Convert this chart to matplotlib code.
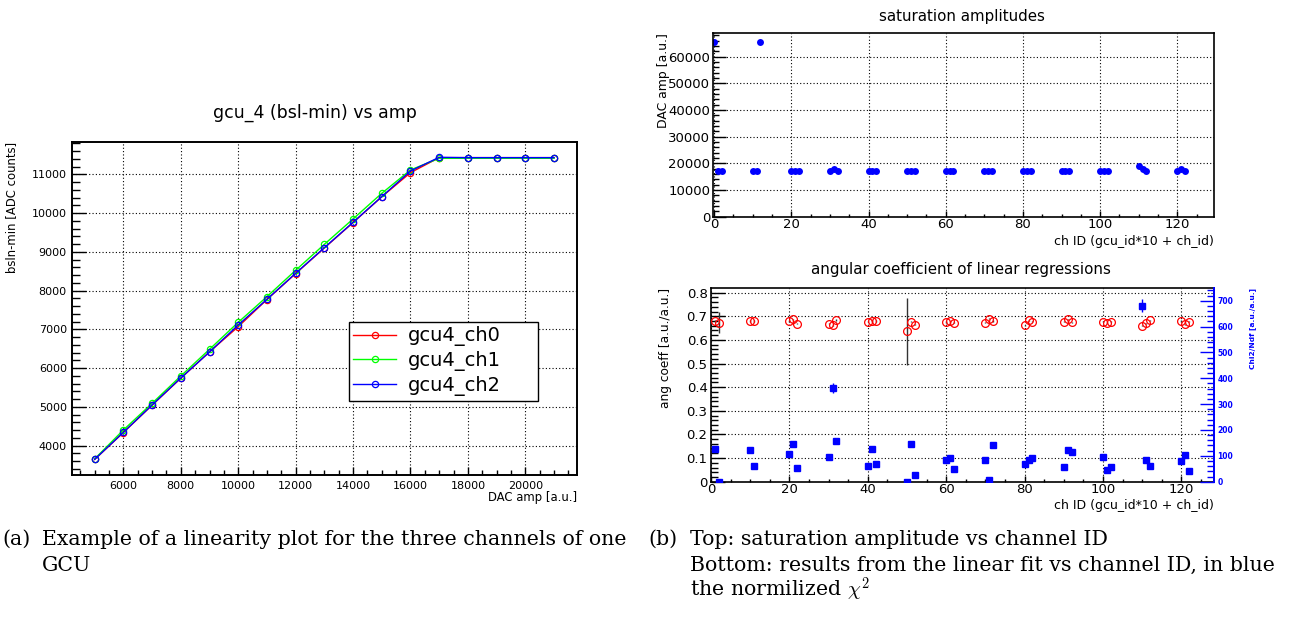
import matplotlib
matplotlib.use("Agg")
import matplotlib.pyplot as plt
from matplotlib.ticker import MultipleLocator

W, H, DPI = 1302, 619, 100

# ---------------- data ----------------
dac_amp = [5000, 6000, 7000, 8000, 9000, 10000, 11000, 12000, 13000,
           14000, 15000, 16000, 17000, 18000, 19000, 20000, 21000]
gcu4_ch0 = [3645, 4340, 5045, 5740, 6420, 7070, 7770, 8440, 9100,
            9755, 10420, 11043, 11430, 11430, 11430, 11430, 11430]
gcu4_ch1 = [3660, 4405, 5093, 5798, 6486, 7182, 7844, 8524, 9194,
            9848, 10510, 11112, 11413, 11413, 11413, 11413, 11413]
gcu4_ch2 = [3648, 4345, 5050, 5746, 6417, 7113, 7776, 8446, 9108,
            9762, 10424, 11086, 11438, 11430, 11430, 11430, 11430]
series_labels = ["gcu4_ch0", "gcu4_ch1", "gcu4_ch2"]

sat_ch = [0, 1, 2, 10, 11, 12, 20, 21, 22, 30, 31, 32, 40, 41, 42, 50, 51, 52,
          60, 61, 62, 70, 71, 72, 80, 81, 82, 90, 91, 92, 100, 101, 102,
          110, 111, 112, 120, 121, 122]
sat_amp = [65535, 17000, 17000, 17000, 17000, 65535, 17000, 17000, 17000,
           17000, 18000, 17000, 17000, 17000, 17000, 17000, 17000, 17000,
           17000, 17000, 17000, 17000, 17000, 17000, 17000, 17000, 17000,
           17000, 17000, 17000, 17000, 17000, 17000, 19000, 18000, 17000,
           17000, 18000, 17000]

fit_ch = [1, 2, 10, 11, 20, 21, 22, 30, 31, 32, 40, 41, 42, 50, 51, 52,
          60, 61, 62, 70, 71, 72, 80, 81, 82, 90, 91, 92, 100, 101, 102,
          110, 111, 112, 120, 121, 122]
ang_coeff = [0.680, 0.673, 0.681, 0.681, 0.680, 0.687, 0.669, 0.669, 0.662,
             0.684, 0.677, 0.681, 0.680, 0.636, 0.677, 0.665, 0.676, 0.679,
             0.673, 0.673, 0.690, 0.681, 0.662, 0.683, 0.677, 0.677, 0.687,
             0.674, 0.677, 0.673, 0.677, 0.660, 0.670, 0.683, 0.681, 0.666,
             0.677]
ang_err = [0.003, 0.044, 0.003, 0.003, 0.003, 0.003, 0.003, 0.003, 0.003,
           0.003, 0.003, 0.003, 0.003, 0.143, 0.003, 0.003, 0.003, 0.003,
           0.003, 0.003, 0.003, 0.003, 0.003, 0.003, 0.003, 0.003, 0.003,
           0.003, 0.003, 0.003, 0.003, 0.003, 0.003, 0.003, 0.003, 0.003,
           0.003]
chi2_ndf = [126, 0, 122, 61, 107, 147, 54, 95, 363, 158, 61, 126, 68, 0, 146,
            26, 85, 91, 50, 85, 5, 142, 68, 85, 90, 58, 124, 113, 94, 47, 58,
            680, 85, 62, 79, 105, 43]
chi2_err = [3, 3, 3, 3, 3, 3, 3, 3, 20, 3, 3, 3, 3, 3, 3, 3, 3, 3, 3, 3, 3,
            3, 3, 3, 3, 3, 3, 3, 3, 3, 3, 25, 3, 3, 3, 3, 3]

# ---------------- helpers ----------------
def rect(l, t, r, b):
    return [l / W, 1 - b / H, (r - l) / W, (b - t) / H]

def fx(x):
    return x / W

def fy(y):
    return 1 - y / H

SANS = "DejaVu Sans"
plt.rcParams["font.family"] = SANS
plt.rcParams["mathtext.fontset"] = "cm"

fig = plt.figure(figsize=(W / DPI, H / DPI), dpi=DPI)
fig.patch.set_facecolor("white")

GRID = dict(color="black", linestyle=(0, (1, 2)), linewidth=0.8)

def style_frame(ax, lw=1.2):
    for s in ax.spines.values():
        s.set_linewidth(lw)
        s.set_color("black")

# ================= left plot =================
ax1 = fig.add_axes(rect(71.7, 141.7, 577, 475))
colors = ["#ff0000", "#00ff00", "#0000ff"]
for ys, c, lab in zip([gcu4_ch0, gcu4_ch1, gcu4_ch2], colors, series_labels):
    ax1.plot(dac_amp, ys, color=c, lw=1.0, marker="o", ms=4.5,
             mfc="none", mec=c, mew=0.9, label=lab)
ax1.set_xlim(4200, 21800)
ax1.set_ylim(3244, 11841)
ax1.set_xticks(range(6000, 20001, 2000))
ax1.set_yticks(range(4000, 11001, 1000))
ax1.xaxis.set_minor_locator(MultipleLocator(500))
ax1.yaxis.set_minor_locator(MultipleLocator(200))
ax1.tick_params(axis="x", which="major", direction="in", length=6, width=1,
                labelsize=8, pad=4, top=False)
ax1.tick_params(axis="x", which="minor", direction="in", length=3.5, width=1,
                top=False)
ax1.tick_params(axis="y", which="major", direction="in", length=10, width=1,
                labelsize=8, pad=3.5, right=False)
ax1.tick_params(axis="y", which="minor", direction="in", length=5.5, width=1,
                right=False)
ax1.grid(True, which="major", **GRID)
style_frame(ax1, 1.4)
leg = ax1.legend(loc="lower left", bbox_to_anchor=(0.548, 0.222, 0.374, 0.263),
                 mode="expand", borderaxespad=0, fontsize=14, frameon=True,
                 fancybox=False, edgecolor="black", framealpha=1,
                 handlelength=2.2, handletextpad=0.6, labelspacing=0.25,
                 borderpad=0.25)
leg.get_frame().set_linewidth(1.0)
fig.text(fx(315), fy(113), "gcu_4 (bsl-min) vs amp", ha="center", va="center",
         fontsize=12.5)
fig.text(fx(12), fy(141.7), "bsln-min [ADC counts]", rotation=90, ha="center",
         va="top", fontsize=8.4)
fig.text(fx(577), fy(497), "DAC amp [a.u.]", ha="right", va="center",
         fontsize=8.4)

# ================= top right plot =================
ax2 = fig.add_axes(rect(713, 33.3, 1214, 216.7))
ax2.plot(sat_ch, sat_amp, "o", color="#0000ff", ms=5, mew=0)
ax2.set_xlim(-0.3, 129.5)
ax2.set_ylim(0, 68775)
ax2.set_xticks(range(0, 121, 20))
ax2.xaxis.set_minor_locator(MultipleLocator(5))
ax2.set_yticks(range(0, 60001, 10000))
ax2.yaxis.set_minor_locator(MultipleLocator(2000))
ax2.tick_params(axis="x", which="major", direction="in", length=4, width=1,
                labelsize=9.5, pad=1, top=False)
ax2.tick_params(axis="x", which="minor", direction="in", length=2.2, width=1,
                top=False)
ax2.tick_params(axis="y", which="major", direction="in", length=9.5, width=1,
                labelsize=9.5, pad=2, right=False)
ax2.tick_params(axis="y", which="minor", direction="in", length=4, width=1,
                right=False)
ax2.grid(True, which="major", **GRID)
style_frame(ax2, 1.2)
fig.text(fx(962), fy(16.7), "saturation amplitudes", ha="center", va="center",
         fontsize=10.8)
fig.text(fx(663), fy(33.3), "DAC amp [a.u.]", rotation=90, ha="center",
         va="top", fontsize=8.9)
fig.text(fx(1214), fy(241.7), "ch ID (gcu_id*10 + ch_id)", ha="right",
         va="center", fontsize=9)

# ================= bottom right plot =================
ax3 = fig.add_axes(rect(711, 288.3, 1214, 481.7))
ax3.errorbar(fit_ch, ang_coeff, yerr=ang_err, fmt="o", ms=5.6, mfc="none",
             mec="#ff0000", mew=0.9, ecolor="#333333", elinewidth=1.0,
             capsize=0, zorder=3)
ax3.set_xlim(0, 128.3)
ax3.set_ylim(0, 0.8186)
ax3.set_xticks(range(0, 121, 20))
ax3.xaxis.set_minor_locator(MultipleLocator(5))
ax3.set_yticks([0, 0.1, 0.2, 0.3, 0.4, 0.5, 0.6, 0.7, 0.8])
ax3.set_yticklabels(["0", "0.1", "0.2", "0.3", "0.4", "0.5", "0.6", "0.7",
                     "0.8"])
ax3.yaxis.set_minor_locator(MultipleLocator(0.02))
ax3.tick_params(axis="x", which="major", direction="in", length=4, width=1,
                labelsize=9.5, pad=1, top=False)
ax3.tick_params(axis="x", which="minor", direction="in", length=2.2, width=1,
                top=False)
ax3.tick_params(axis="y", which="major", direction="in", length=10, width=1,
                labelsize=9.5, pad=2.5, right=False)
ax3.tick_params(axis="y", which="minor", direction="in", length=5, width=1,
                right=False)
ax3.grid(True, which="major", **GRID)
style_frame(ax3, 1.2)

ax4 = ax3.twinx()
ax4.errorbar(fit_ch, chi2_ndf, yerr=chi2_err, fmt="s", ms=4.8, color="#0000ff",
             mec="#0000ff", ecolor="#0000ff", elinewidth=1.0, capsize=0)
ax4.set_ylim(0, 747.9)
ax4.set_yticks(range(0, 701, 100))
ax4.yaxis.set_minor_locator(MultipleLocator(20))
ax4.tick_params(axis="y", which="major", direction="in", length=10, width=1,
                colors="#0000ff", labelsize=5.5, pad=2.5)
ax4.tick_params(axis="y", which="minor", direction="in", length=5, width=1,
                colors="#0000ff")
for lbl in ax4.get_yticklabels():
    lbl.set_fontweight("bold")
ax4.spines["right"].set_color("#0000ff")
ax4.spines["right"].set_linewidth(1.4)
for s in ["left", "top", "bottom"]:
    ax4.spines[s].set_visible(False)

fig.text(fx(961), fy(270), "angular coefficient of linear regressions",
         ha="center", va="center", fontsize=10.8)
fig.text(fx(665), fy(288.3), "ang coeff [a.u./a.u.]", rotation=90,
         ha="center", va="top", fontsize=8.7)
fig.text(fx(1214), fy(505), "ch ID (gcu_id*10 + ch_id)", ha="right",
         va="center", fontsize=9)
fig.text(fx(1253), fy(288.3), "Chi2/Ndf [a.u./a.u.]", rotation=90,
         ha="center", va="top", fontsize=5.4, fontweight="bold",
         color="#0000ff")

# ================= captions =================
SERIF = "DejaVu Serif"
CAP = 14.8
fig.text(fx(2), fy(545), "(a)", ha="left", va="baseline", fontsize=CAP,
         family=SERIF)
fig.text(fx(41.5), fy(545),
         "Example of a linearity plot for the three channels of one",
         ha="left", va="baseline", fontsize=CAP, family=SERIF)
fig.text(fx(41.5), fy(570.7), "GCU", ha="left", va="baseline", fontsize=CAP,
         family=SERIF)
fig.text(fx(648), fy(545), "(b)", ha="left", va="baseline", fontsize=CAP,
         family=SERIF)
fig.text(fx(690), fy(545), "Top: saturation amplitude vs channel ID",
         ha="left", va="baseline", fontsize=CAP, family=SERIF)
fig.text(fx(690), fy(570.7),
         "Bottom: results from the linear fit vs channel ID, in blue",
         ha="left", va="baseline", fontsize=CAP, family=SERIF)
fig.text(fx(690), fy(596.7), r"the normilized $\chi^2$", ha="left",
         va="baseline", fontsize=CAP, family=SERIF)

fig.savefig("out.png", dpi=DPI)
